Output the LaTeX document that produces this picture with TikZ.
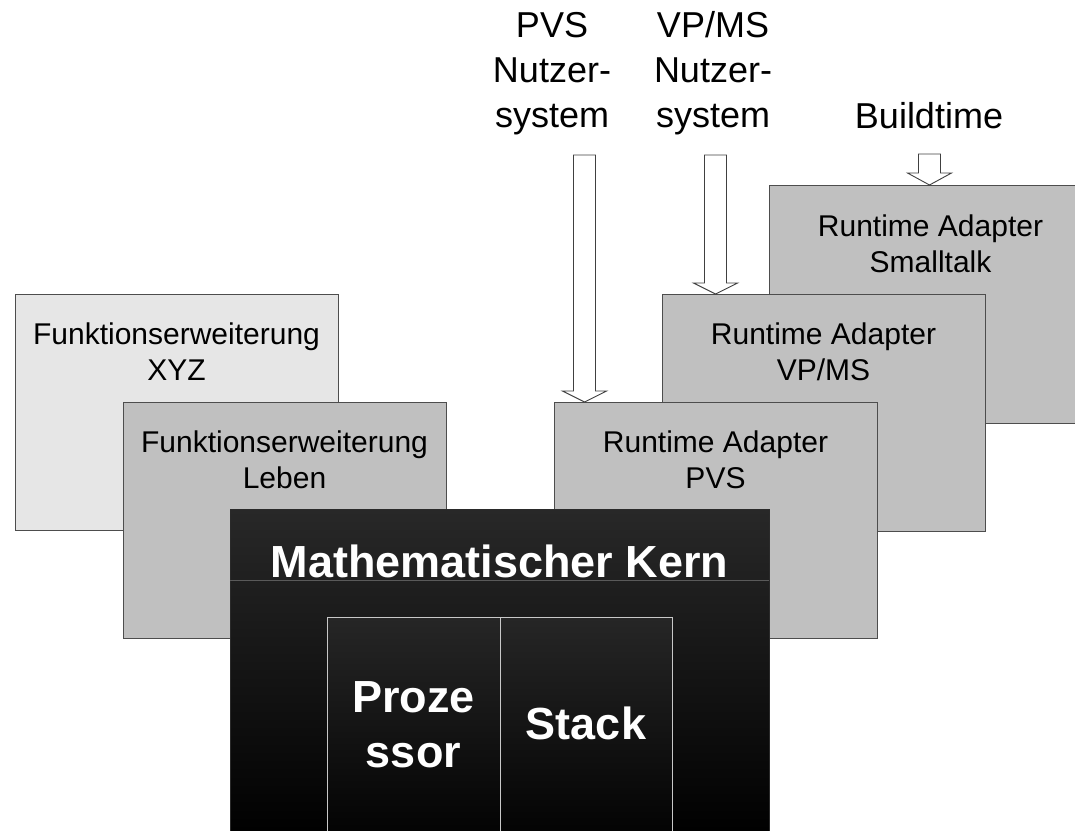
\documentclass[tikz,border=0pt]{standalone}
\usepackage{fontspec}
\setmainfont{Liberation Sans}
\usetikzlibrary{calc}

\definecolor{edgegray}{HTML}{4D4D4D}
\definecolor{paleface}{HTML}{E6E6E6}
\definecolor{midface}{HTML}{C0C0C0}
\definecolor{coretop}{HTML}{282828}
\definecolor{coreedge}{HTML}{2A2A2A}
\definecolor{corerule}{HTML}{5A5A5A}
\definecolor{celltop}{HTML}{262626}
\definecolor{cellline}{HTML}{C8C8C8}
\definecolor{arrowedge}{HTML}{404040}

\begin{document}
\begin{tikzpicture}[x=1pt,y=-1pt,
  layer/.style={draw=edgegray, line width=1pt, rectangle, anchor=north west,
    inner sep=0pt, outer sep=0pt, minimum width=323pt, minimum height=236pt},
  pale/.style={layer, fill=paleface},
  mid/.style={layer, fill=midface},
  % anchor=base puts the last line of a label on the given point
  boxtext/.style={anchor=base, align=center, inner sep=0pt,
    font=\fontsize{30}{36}\selectfont},
  toplabel/.style={anchor=base, align=center, inner sep=0pt,
    font=\fontsize{36}{45}\selectfont},
  corefont/.style={anchor=base, align=center, inner sep=0pt, text=white,
    font=\bfseries\fontsize{45}{55}\selectfont},
  corebox/.style={draw=coreedge, line width=1pt, anchor=north west,
    inner sep=0pt, outer sep=0pt, top color=coretop, bottom color=black},
  cellbox/.style={draw=cellline, line width=1pt, anchor=north west,
    inner sep=0pt, outer sep=0pt, top color=celltop, bottom color=black},
  arrowbody/.style={draw=arrowedge, fill=white, line width=0.9pt, line join=miter},
]
\useasboundingbox (0,0) rectangle (1075,830);

% feature extensions on the left
\node[pale] (xyz) at (15,294) {};
\node[boxtext] (xyzT) at ($(xyz.north)+(0,86)$) {Funktionserweiterung\\XYZ};
\node[mid] (leben) at (123,402) {};
\node[boxtext] (lebenT) at ($(leben.north)+(0,86)$) {Funktionserweiterung\\Leben};

% runtime adapters on the right, back to front
\node[mid, minimum height=238pt] (small) at (769,185) {};
\node[boxtext] (smallT) at ($(small.north)+(0,87)$) {Runtime Adapter\\Smalltalk};
\node[mid, minimum height=237pt] (vpms) at (662,294) {};
\node[boxtext] (vpmsT) at ($(vpms.north)+(0,86)$) {Runtime Adapter\\VP/MS};
\node[mid] (pvs) at (554,402) {};
\node[boxtext] (pvsT) at ($(pvs.north)+(0,86)$) {Runtime Adapter\\PVS};

% mathematical core
\node[corebox, minimum width=539pt, minimum height=330pt] (core) at (230,509) {};
\coordinate (ruleY) at (0,580);
\draw[corerule, line width=1pt] (core.west |- ruleY) -- (core.east |- ruleY);
\node[corefont] (coreT) at (499.5,577) {Mathematischer Kern};
\node[cellbox, minimum width=173pt, minimum height=235pt] (proc) at (327,617) {};
\node[cellbox, minimum width=172pt, minimum height=235pt] (stack) at (500,617) {};
\node[corefont] (procT) at (413.5,767) {Proze\\ssor};
\node[corefont] (stackT) at (586,739) {Stack};

% inputs from above
\node[toplabel] (pvsIn) at (552,127) {PVS\\Nutzer-\\system};
\node[toplabel] (vpmsIn) at (713,127) {VP/MS\\Nutzer-\\system};
\node[toplabel] (buildIn) at (929,128) {Buildtime};

\coordinate (pvsTail) at (584.5,155);
\coordinate (vpmsTail) at (715.5,155);
\coordinate (buildTail) at (929.5,154);

\draw[arrowbody] let \p1=(pvsTail), \p2=(pvsTail |- pvs.north) in
  (\x1-11pt,\y1) -- (\x1+11pt,\y1) -- (\x1+11pt,\y2+11pt) -- (\x1+22pt,\y2+11pt)
  -- (\x1,\y2) -- (\x1-22pt,\y2+11pt) -- (\x1-11pt,\y2+11pt) -- cycle;
\draw[arrowbody] let \p1=(vpmsTail), \p2=(vpmsTail |- vpms.north) in
  (\x1-11pt,\y1) -- (\x1+11pt,\y1) -- (\x1+11pt,\y2+11pt) -- (\x1+22pt,\y2+11pt)
  -- (\x1,\y2) -- (\x1-22pt,\y2+11pt) -- (\x1-11pt,\y2+11pt) -- cycle;
\draw[arrowbody] let \p1=(buildTail), \p2=(buildTail |- small.north) in
  (\x1-11pt,\y1) -- (\x1+11pt,\y1) -- (\x1+11pt,\y2+12pt) -- (\x1+22pt,\y2+12pt)
  -- (\x1,\y2) -- (\x1-22pt,\y2+12pt) -- (\x1-11pt,\y2+12pt) -- cycle;
\end{tikzpicture}
\end{document}
